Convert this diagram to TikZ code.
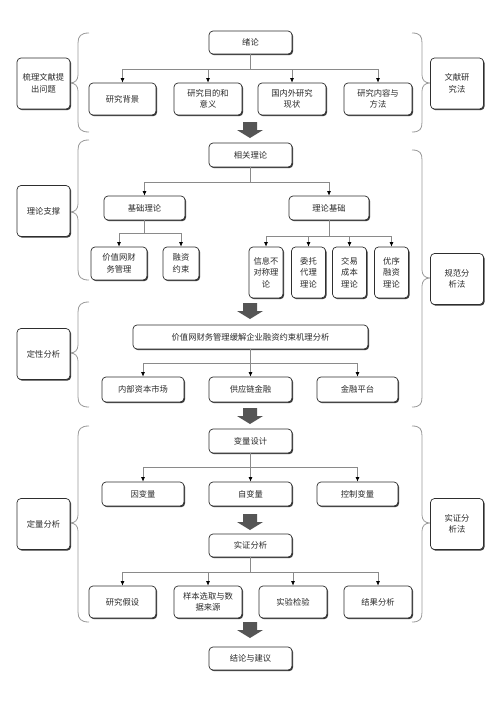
\documentclass[tikz,border=0pt]{standalone}
\usepackage{fontspec}
\newfontfamily\cjk{Noto Sans CJK SC}
\usetikzlibrary{shadows,arrows.meta}
\definecolor{boxline}{HTML}{2E2E2E}
\definecolor{shad}{HTML}{3A3A3A}
\definecolor{connc}{HTML}{8A8A8A}
\definecolor{bracec}{HTML}{9A9A9A}
\definecolor{bigarr}{HTML}{555555}
\definecolor{txt}{HTML}{2A2A2A}
\tikzset{
  bx/.style={draw=boxline, line width=0.7pt, fill=white, rounded corners=4pt,
    align=center, inner sep=1pt, text=txt,
    font=\cjk\fontsize{8.3}{11.5}\selectfont,
    drop shadow={shadow xshift=1.1pt, shadow yshift=-1.2pt, opacity=1, fill=shad}},
  conn/.style={draw=connc, line width=0.7pt, -{Latex[length=4.5pt,width=4pt,color=black]}},
  brc/.style={draw=bracec, line width=0.8pt},
  bigarrow/.style={fill=bigarr, draw=none}
}
% left brace: top, bottom, tip
\newcommand\lbrc[3]{\draw[brc] (89,#1) .. controls (81,#1) and (78,#1+3) .. (78,#1+10) -- (78,#3-8) .. controls (78,#3-3) and (75,#3) .. (70,#3) .. controls (75,#3) and (78,#3+3) .. (78,#3+8) -- (78,#2-10) .. controls (78,#2-3) and (81,#2) .. (89,#2);}
\newcommand\rbrc[3]{\draw[brc] (412,#1) .. controls (420,#1) and (422,#1+3) .. (422,#1+10) -- (422,#3-8) .. controls (422,#3-3) and (425,#3) .. (430,#3) .. controls (425,#3) and (422,#3+3) .. (422,#3+8) -- (422,#2-10) .. controls (422,#2-3) and (420,#2) .. (412,#2);}
% big arrow with tip at y
\newcommand\bigarr[1]{\fill[bigarrow] (243,#1-16) -- (257,#1-16) -- (257,#1-8) -- (263,#1-8) -- (250,#1) -- (237,#1-8) -- (243,#1-8) -- cycle;}
\begin{document}
\begin{tikzpicture}[x=1pt,y=-1pt]
\useasboundingbox[fill=white] (0,0) rectangle (500,707);

% ---- braces
\lbrc{33}{132}{83}
\lbrc{140}{280}{212}
\lbrc{302}{407}{353}
\lbrc{426}{622}{523}
\rbrc{33}{132}{83}
\rbrc{150}{407}{278}
\rbrc{426}{622}{523}

% ---- side boxes
\node[bx, minimum width=53, minimum height=51] (L1) at (43.5,83.5) {梳理文献提\\出问题};
\node[bx, minimum width=53, minimum height=51] (L2) at (43.5,211) {理论支撑};
\node[bx, minimum width=53, minimum height=51] (L3) at (43.5,354) {定性分析};
\node[bx, minimum width=53, minimum height=51] (L4) at (43.5,524) {定量分析};
\node[bx, minimum width=53, minimum height=51] (R1) at (457,83.5) {文献研\\究法};
\node[bx, minimum width=53, minimum height=51] (R2) at (457,279) {规范分\\析法};
\node[bx, minimum width=53, minimum height=51] (R4) at (457,524) {实证分\\析法};

% ---- section 1
\node[bx, minimum width=83, minimum height=23] (xl) at (250.5,42.5) {绪论};
\node[bx, minimum width=67, minimum height=32] (bj) at (122.5,99) {研究背景};
\node[bx, minimum width=68, minimum height=32] (md) at (208,99) {研究目的和\\意义};
\node[bx, minimum width=68, minimum height=32] (xz) at (292,99) {国内外研究\\现状};
\node[bx, minimum width=68, minimum height=32] (nr) at (378,99) {研究内容与\\方法};
\foreach \c in {bj,md,xz,nr} \draw[conn] (xl.south) -- ++(0,15) -| (\c.north);
\bigarr{138}

% ---- section 2
\node[bx, minimum width=83, minimum height=24] (xg) at (250.5,155) {相关理论};
\node[bx, minimum width=81, minimum height=24] (jc) at (144.5,208) {基础理论};
\node[bx, minimum width=80, minimum height=24] (ll) at (329,208) {理论基础};
\foreach \c in {jc,ll} \draw[conn] (xg.south) -- ++(0,15) -| (\c.north);
\node[bx, minimum width=56, minimum height=33] (jz) at (119,263.5) {价值网财\\务管理};
\node[bx, minimum width=36, minimum height=33] (rz) at (181,263.5) {融资\\约束};
\foreach \c in {jz,rz} \draw[conn] (jc.south) -- ++(0,13) -| (\c.north);
\node[bx, minimum width=34, minimum height=51] (t1) at (266,272.5) {信息不\\对称理\\论};
\node[bx, minimum width=34, minimum height=51] (t2) at (308.5,272.5) {委托\\代理\\理论};
\node[bx, minimum width=34, minimum height=51] (t3) at (349.5,272.5) {交易\\成本\\理论};
\node[bx, minimum width=34, minimum height=51] (t4) at (391.5,272.5) {优序\\融资\\理论};
\foreach \c in {t1,t2,t3,t4} \draw[conn] (ll.south) -- ++(0,16) -| (\c.north);
\bigarr{319}

% ---- section 3
\node[bx, minimum width=235, minimum height=24] (jl) at (250.5,337) {价值网财务管理缓解企业融资约束机理分析};
\node[bx, minimum width=82, minimum height=25] (nb) at (143,389.5) {内部资本市场};
\node[bx, minimum width=83, minimum height=25] (gy) at (250.5,389.5) {供应链金融};
\node[bx, minimum width=81, minimum height=25] (jr) at (357.5,389.5) {金融平台};
\foreach \c in {nb,gy,jr} \draw[conn] (jl.south) -- ++(0,14) -| (\c.north);
\bigarr{424}

% ---- section 4
\node[bx, minimum width=83, minimum height=24] (bl) at (250.5,441) {变量设计};
\node[bx, minimum width=82, minimum height=24] (yb) at (143,494) {因变量};
\node[bx, minimum width=83, minimum height=24] (zb) at (250.5,494) {自变量};
\node[bx, minimum width=81, minimum height=24] (kz) at (357.5,494) {控制变量};
\foreach \c in {yb,zb,kz} \draw[conn] (bl.south) -- ++(0,14) -| (\c.north);
\bigarr{530}
\node[bx, minimum width=83, minimum height=23] (sz) at (250.5,545.5) {实证分析};
\node[bx, minimum width=67, minimum height=32] (yj) at (122.5,602) {研究假设};
\node[bx, minimum width=68, minimum height=32] (yq) at (208,602) {样本选取与数\\据来源};
\node[bx, minimum width=68, minimum height=32] (sy) at (293,602) {实验检验};
\node[bx, minimum width=68, minimum height=32] (jg) at (378,602) {结果分析};
\foreach \c in {yj,yq,sy,jg} \draw[conn] (sz.south) -- ++(0,15) -| (\c.north);
\bigarr{638}
\node[bx, minimum width=83, minimum height=23] (jy) at (250.5,658.5) {结论与建议};
\end{tikzpicture}
\end{document}
